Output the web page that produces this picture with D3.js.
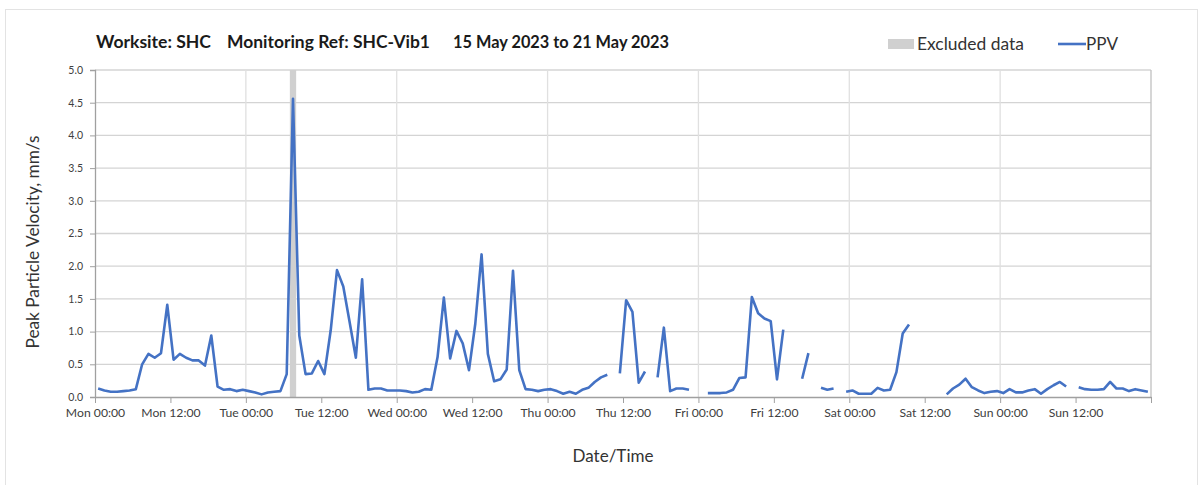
<!DOCTYPE html>
<html><head><meta charset="utf-8">
<script src="https://cdn.jsdelivr.net/npm/d3@7"></script>
<style>body{margin:0;background:#fff;} svg{display:block;font-family:Lato,"Open Sans",sans-serif;}</style>
</head><body>
<svg id="chart" width="1203" height="485"></svg>
<script>
// Hourly PPV (mm/s), one reading per hour starting Mon 15 May 2023 00:30; null = no data
const ppv = [
  0.13,0.10,0.08,0.08,0.09,0.10,0.12,0.50,0.66,0.60,
  0.67,1.41,0.57,0.66,0.60,0.56,0.56,0.48,0.94,0.16,
  0.11,0.12,0.09,0.11,0.09,0.07,0.04,0.07,0.08,0.09,
  0.35,4.56,0.94,0.35,0.36,0.55,0.35,1.02,1.94,1.69,
  1.15,0.60,1.80,0.11,0.13,0.13,0.10,0.10,0.10,0.09,
  0.07,0.08,0.12,0.11,0.61,1.52,0.59,1.01,0.82,0.41,
  1.12,2.18,0.66,0.24,0.27,0.42,1.93,0.41,0.12,0.11,
  0.09,0.11,0.12,0.09,0.05,0.08,0.05,0.11,0.14,0.23,
  0.30,0.34,null,0.36,1.48,1.30,0.22,0.39,null,0.30,
  1.06,0.09,0.13,0.13,0.11,null,null,0.06,0.06,0.06,
  0.07,0.11,0.29,0.30,1.53,1.28,1.20,1.16,0.27,1.03,
  null,null,0.28,0.67,null,0.14,0.11,0.13,null,0.08,
  0.10,0.05,0.05,0.05,0.14,0.10,0.11,0.38,0.97,1.11,
  null,null,null,null,null,0.04,0.13,0.19,0.28,0.15,
  0.10,0.06,0.08,0.09,0.06,0.12,0.07,0.07,0.10,0.12,
  0.05,0.12,0.18,0.23,0.16,null,0.15,0.12,0.11,0.11,
  0.12,0.23,0.13,0.13,0.09,0.12,0.10,0.08
];
const startTime = new Date(2023, 4, 15, 0, 30);
const endTime = new Date(2023, 4, 22, 0, 0);
const axisStart = new Date(2023, 4, 15, 0, 0);
const excluded = [[new Date(2023, 4, 16, 7, 0), new Date(2023, 4, 16, 8, 0)]];
const yTicks = [0, 0.5, 1, 1.5, 2, 2.5, 3, 3.5, 4, 4.5, 5];
const xTickLabels = ["Mon 00:00","Mon 12:00","Tue 00:00","Tue 12:00","Wed 00:00","Wed 12:00","Thu 00:00","Thu 12:00","Fri 00:00","Fri 12:00","Sat 00:00","Sat 12:00","Sun 00:00","Sun 12:00",""];
const titleParts = ["Worksite: SHC", "Monitoring Ref: SHC-Vib1", "15 May 2023 to 21 May 2023"];

const data = ppv.map((v, i) => ({t: d3.timeHour.offset(startTime, i), v}));

const svg = d3.select("#chart");
const L = 95, R = 1151, T = 70, B = 397;
const x = d3.scaleTime().domain([axisStart, endTime]).range([L, R]);
const y = d3.scaleLinear().domain([0, 5]).range([B, T]);

// outer frame
svg.append("rect").attr("x", 5.5).attr("y", 9.5).attr("width", 1192).attr("height", 480)
  .attr("fill", "none").attr("stroke", "#e3e3e3");

// horizontal grid
svg.append("g").selectAll("line").data(yTicks.slice(1)).join("line")
  .attr("x1", L).attr("x2", R).attr("y1", d => y(d)).attr("y2", d => y(d))
  .attr("stroke", "#d4d4d4").attr("stroke-width", 1.3);

// vertical day grid
const xTicks = d3.timeHour.every(12).range(axisStart, d3.timeHour.offset(endTime, 1));
svg.append("g").selectAll("line").data(xTicks.filter(d => d.getHours() === 0 && +d > +axisStart && +d < +endTime)).join("line")
  .attr("x1", d => x(d)).attr("x2", d => x(d)).attr("y1", T).attr("y2", B)
  .attr("stroke", "#e0e0e0").attr("stroke-width", 1.3);

// excluded bar
svg.append("g").selectAll("rect").data(excluded).join("rect")
  .attr("x", d => x(d[0])).attr("width", d => x(d[1]) - x(d[0]))
  .attr("y", T).attr("height", B - T).attr("fill", "#d0d0d0");

// right border
svg.append("line").attr("x1", R).attr("x2", R).attr("y1", T).attr("y2", B).attr("stroke", "#c0c0c0").attr("stroke-width", 1.3);

// y axis
const yAxis = svg.append("g").attr("transform", `translate(${L},0)`)
  .call(d3.axisLeft(y).tickValues(yTicks).tickFormat(d3.format(".1f")).tickSize(5).tickPadding(7));
yAxis.select(".domain").attr("stroke", "#a0a0a0").attr("stroke-width", 1.3);
yAxis.selectAll(".tick line").attr("stroke", "#a0a0a0");
yAxis.selectAll("text").attr("font-size", 10.5).attr("fill", "#404040").attr("font-family", "Lato");

// x axis
const xAxis = svg.append("g").attr("transform", `translate(0,${B})`)
  .call(d3.axisBottom(x).tickValues(xTicks.filter(d => +d <= +endTime)).tickFormat((d, i) => xTickLabels[i]).tickSize(6).tickPadding(5).tickSizeOuter(0));
xAxis.select(".domain").attr("stroke", "#a0a0a0").attr("stroke-width", 1.3);
xAxis.selectAll(".tick line").attr("stroke", "#a0a0a0");
xAxis.selectAll("text").attr("font-size", 12.2).attr("fill", "#404040").attr("font-family", "Lato");

// line
const line = d3.line().defined(d => d.v !== null).x(d => x(d.t)).y(d => y(d.v));
svg.append("path").datum(data).attr("d", line).attr("fill", "none")
  .attr("stroke", "#4472C4").attr("stroke-width", 2.6).attr("stroke-linejoin", "round");

// title
const tx = [96, 227, 453];
const tw = [115, 203, 216];
svg.append("g").selectAll("text").data(titleParts).join("text")
  .attr("x", (d, i) => tx[i]).attr("y", 48).text(d => d)
  .attr("textLength", (d, i) => tw[i]).attr("lengthAdjust", "spacingAndGlyphs")
  .attr("font-size", 16.5).attr("font-weight", "bold").attr("fill", "#1a1a1a");

// legend
svg.append("rect").attr("x", 888).attr("y", 39).attr("width", 26).attr("height", 10).attr("fill", "#d0d0d0");
svg.append("text").attr("x", 917).attr("y", 50).text("Excluded data").attr("font-size", 16.5)
  .attr("textLength", 107).attr("lengthAdjust", "spacingAndGlyphs").attr("fill", "#333");
svg.append("line").attr("x1", 1058).attr("x2", 1086).attr("y1", 44).attr("y2", 44).attr("stroke", "#4472C4").attr("stroke-width", 2.6);
svg.append("text").attr("x", 1086).attr("y", 50).text("PPV").attr("font-size", 16.5)
  .attr("textLength", 32).attr("lengthAdjust", "spacingAndGlyphs").attr("fill", "#333");

// axis titles
svg.append("text").attr("transform", "translate(39,242) rotate(-90)").attr("text-anchor", "middle")
  .text("Peak Particle Velocity, mm/s").attr("font-size", 16.5)
  .attr("textLength", 213).attr("lengthAdjust", "spacingAndGlyphs").attr("fill", "#333");
svg.append("text").attr("x", 613).attr("y", 462).attr("text-anchor", "middle")
  .text("Date/Time").attr("font-size", 17.5)
  .attr("textLength", 81).attr("lengthAdjust", "spacingAndGlyphs").attr("fill", "#333");
</script>
</body></html>
